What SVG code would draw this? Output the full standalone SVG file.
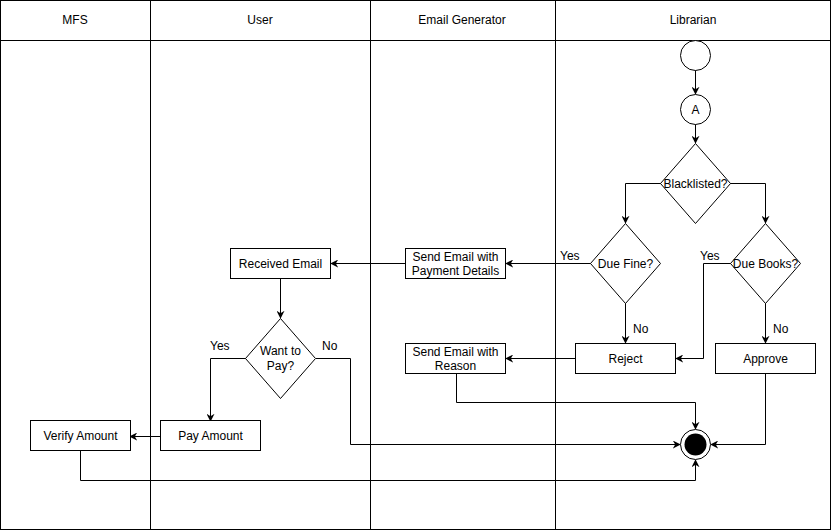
<svg xmlns="http://www.w3.org/2000/svg" width="832" height="530" viewBox="0 0 832 530">
  <defs>
    <marker id="arrow" viewBox="0 0 10 10" refX="9" refY="5" markerWidth="8" markerHeight="8" markerUnits="userSpaceOnUse" orient="auto">
      <path d="M0,0 L10,5 L0,10 L3,5 Z" fill="#000"/>
    </marker>
    <style>
      .lane { fill: #fff; stroke: #000; stroke-width: 1; }
      .box { fill: #fff; stroke: #000; stroke-width: 1; }
      .edge { fill: none; stroke: #000; stroke-width: 1; marker-end: url(#arrow); }
      text { font-family: "Liberation Sans", Arial, Helvetica, sans-serif; font-size: 12px; fill: #000; text-anchor: middle; dominant-baseline: central; }
      .lbl { text-anchor: start; }
    </style>
  </defs>
  <rect width="832" height="530" fill="#fff"/>

  <!-- swimlanes -->
  <g id="lanes">
    <rect class="lane" x="0.5" y="0.5" width="830" height="529"/>
    <line x1="0.5" y1="40.5" x2="830.5" y2="40.5" stroke="#000"/>
    <line x1="150.5" y1="0.5" x2="150.5" y2="529.5" stroke="#000"/>
    <line x1="370.5" y1="0.5" x2="370.5" y2="529.5" stroke="#000"/>
    <line x1="555.5" y1="0.5" x2="555.5" y2="529.5" stroke="#000"/>
    <text x="75" y="20">MFS</text>
    <text x="260" y="20">User</text>
    <text x="462" y="20">Email Generator</text>
    <text x="693" y="20">Librarian</text>
  </g>

  <!-- connectors -->
  <g id="connectors">
    <path class="edge" d="M695.5,70 L695.5,94"/>
    <path class="edge" d="M695.5,124 L695.5,143"/>
    <path class="edge" d="M661,183.5 L625.5,183.5 L625.5,223"/>
    <path class="edge" d="M730,183.5 L765.5,183.5 L765.5,223"/>
    <path class="edge" d="M625.5,303 L625.5,343"/>
    <path class="edge" d="M765.5,303 L765.5,343"/>
    <path class="edge" d="M731,263.5 L703.5,263.5 L703.5,358.5 L676,358.5"/>
    <path class="edge" d="M591,263.5 L506,263.5"/>
    <path class="edge" d="M576,358.5 L506,358.5"/>
    <path class="edge" d="M456.5,373 L456.5,402.5 L695.5,402.5 L695.5,429"/>
    <path class="edge" d="M765.5,373 L765.5,444.5 L711,444.5"/>
    <path class="edge" d="M406,263.5 L331,263.5"/>
    <path class="edge" d="M280.5,279 L280.5,318"/>
    <path class="edge" d="M246,358.5 L210.5,358.5 L210.5,421"/>
    <path class="edge" d="M316,358.5 L350.5,358.5 L350.5,444.5 L680,444.5"/>
    <path class="edge" d="M160,436.5 L130,436.5"/>
    <path class="edge" d="M80.5,451 L80.5,480.5 L695.5,480.5 L695.5,460"/>
    <text class="lbl" x="560" y="256">Yes</text>
    <text class="lbl" x="700" y="256">Yes</text>
    <text class="lbl" x="633" y="329">No</text>
    <text class="lbl" x="773" y="329">No</text>
    <text class="lbl" x="210" y="346">Yes</text>
    <text class="lbl" x="322" y="346">No</text>
  </g>

  <!-- nodes -->
  <g id="start">
    <circle class="box" cx="695.5" cy="55.5" r="15"/>
  </g>
  <g id="connectorA">
    <circle class="box" cx="695.5" cy="109.5" r="15"/>
    <text x="695.5" y="109.5">A</text>
  </g>
  <g id="blacklisted">
    <polygon class="box" points="695.5,143.5 730.5,183.5 695.5,223.5 660.5,183.5"/>
    <text x="695.5" y="183.5">Blacklisted?</text>
  </g>
  <g id="dueFine">
    <polygon class="box" points="625.5,223.5 660.5,263.5 625.5,303.5 590.5,263.5"/>
    <text x="625.5" y="263.5">Due Fine?</text>
  </g>
  <g id="dueBooks">
    <polygon class="box" points="765.5,223.5 800.5,263.5 765.5,303.5 730.5,263.5"/>
    <text x="765.5" y="263.5">Due Books?</text>
  </g>
  <g id="reject">
    <rect class="box" x="575.5" y="343.5" width="100" height="30"/>
    <text x="625.5" y="358.5">Reject</text>
  </g>
  <g id="approve">
    <rect class="box" x="715.5" y="343.5" width="100" height="30"/>
    <text x="765.5" y="358.5">Approve</text>
  </g>
  <g id="sendPayment">
    <rect class="box" x="405.5" y="248.5" width="100" height="30"/>
    <text x="455.5" y="257">Send Email with</text>
    <text x="455.5" y="271">Payment Details</text>
  </g>
  <g id="sendReason">
    <rect class="box" x="405.5" y="343.5" width="100" height="30"/>
    <text x="455.5" y="352">Send Email with</text>
    <text x="455.5" y="366">Reason</text>
  </g>
  <g id="receivedEmail">
    <rect class="box" x="230.5" y="248.5" width="100" height="30"/>
    <text x="280.5" y="263.5">Received Email</text>
  </g>
  <g id="wantToPay">
    <polygon class="box" points="280.5,318.5 315.5,358.5 280.5,398.5 245.5,358.5"/>
    <text x="280.5" y="351">Want to</text>
    <text x="280.5" y="366">Pay?</text>
  </g>
  <g id="payAmount">
    <rect class="box" x="160.5" y="420.5" width="100" height="30"/>
    <text x="210.5" y="435.5">Pay Amount</text>
  </g>
  <g id="verifyAmount">
    <rect class="box" x="30.5" y="420.5" width="100" height="30"/>
    <text x="80.5" y="435.5">Verify Amount</text>
  </g>
  <g id="end">
    <circle class="box" cx="695.5" cy="444.5" r="15"/>
    <circle cx="695.5" cy="444.5" r="11" fill="#000"/>
  </g>
</svg>
